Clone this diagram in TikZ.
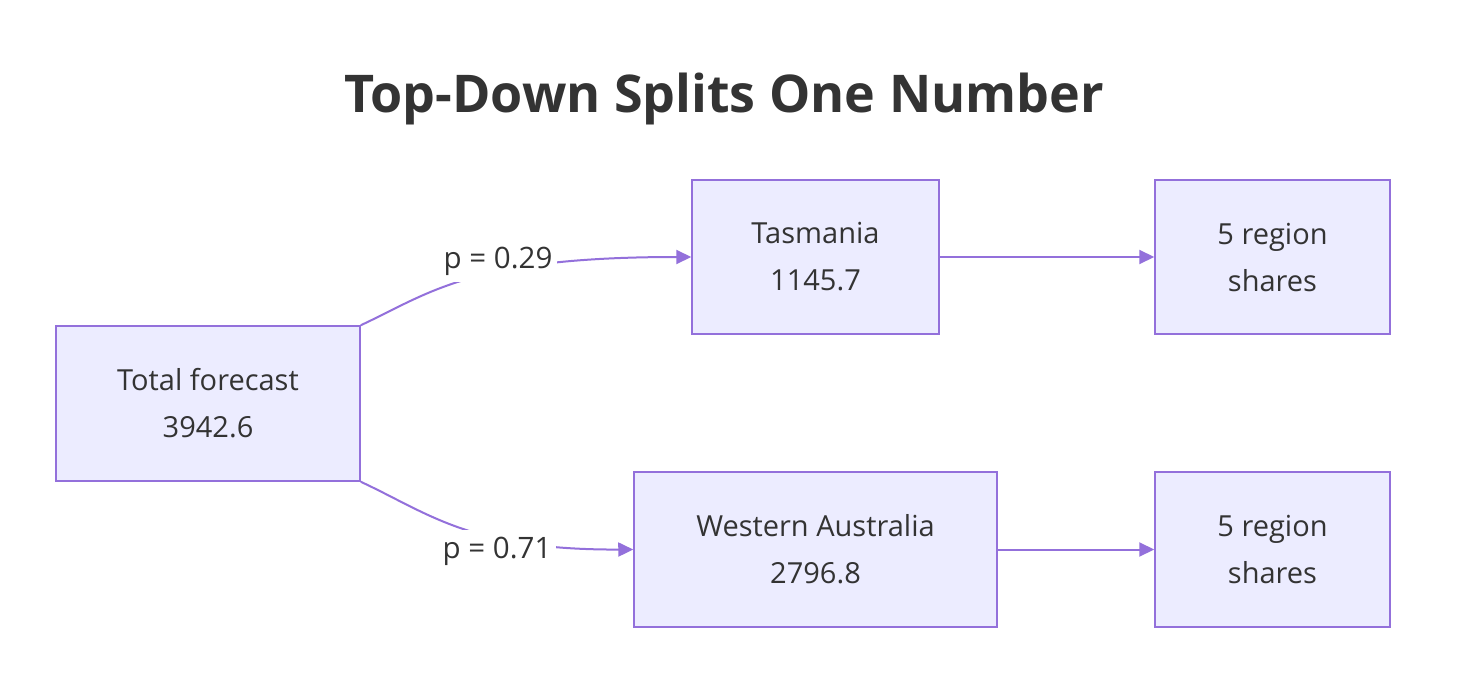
\documentclass[tikz,border=0pt]{standalone}
\usepackage{fontspec}
\setmainfont{Open Sans}
\usetikzlibrary{arrows.meta}
\definecolor{edgec}{HTML}{9370DB}
\definecolor{boxfill}{HTML}{ECECFF}
\definecolor{txt}{HTML}{333333}
\begin{document}
\begin{tikzpicture}[x=1pt,y=-1pt,
  box/.style={draw=edgec, fill=boxfill, line width=1.5pt, text=txt, align=center,
    font=\fontsize{29}{47}\selectfont, inner sep=0pt},
  conn/.style={draw=edgec, line width=2pt, -{Triangle[length=15pt,width=14pt]}},
  lbl/.style={fill=white, text=txt, font=\fontsize{29.5}{34}\selectfont, inner sep=0pt,
    minimum height=42pt, minimum width=118pt}]
\useasboundingbox (0,0) rectangle (1462,690);
\fill[white] (0,0) rectangle (1462,690);
\node[font=\fontsize{52}{62}\selectfont\bfseries, text=txt] (title) at (724,99) {Top-Down Splits One Number};
\node[box, minimum width=304pt, minimum height=155pt] (total) at (208,403.5) {Total forecast\\3942.6};
\node[box, minimum width=247pt, minimum height=154pt] (tas) at (815.5,257) {Tasmania\\1145.7};
\node[box, minimum width=363pt, minimum height=155pt] (wa) at (815.5,549.5) {Western Australia\\2796.8};
\node[box, minimum width=235pt, minimum height=154pt] (s1) at (1272.5,257) {5 region\\shares};
\node[box, minimum width=235pt, minimum height=155pt] (s2) at (1272.5,549.5) {5 region\\shares};
\draw[conn] (total.north east) .. controls (430,293) and (470,257) .. (tas.west);
\draw[conn] (total.south east) .. controls (430,514) and (470,550) .. (wa.west);
\node[lbl] (l1) at (498,261) {p = 0.29};
\node[lbl] (l2) at (497,551) {p = 0.71};
\draw[conn] (tas.east) -- (s1.west);
\draw[conn] (wa.east) -- (s2.west);
\end{tikzpicture}
\end{document}
